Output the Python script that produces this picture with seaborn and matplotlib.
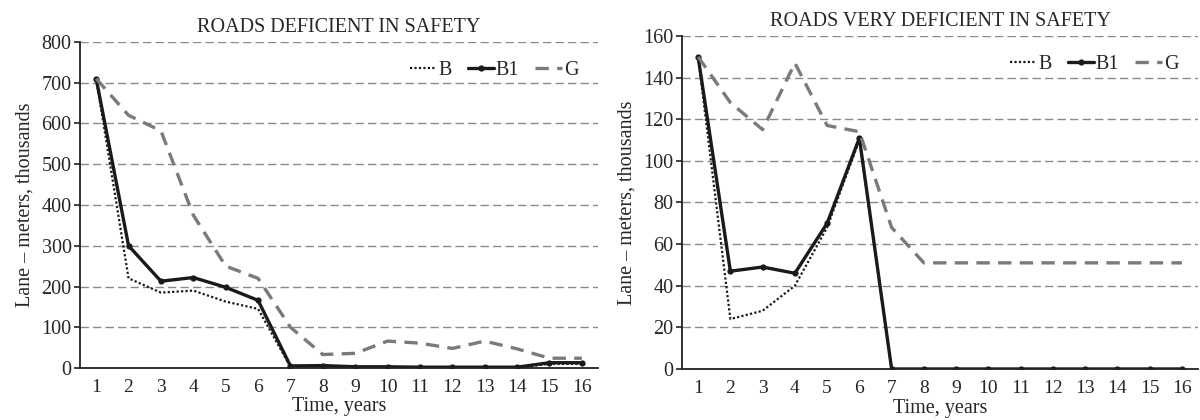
import matplotlib
matplotlib.use("Agg")
import matplotlib.pyplot as plt
import seaborn as sns
import numpy as np
import pandas as pd

years = list(range(1, 17))

# Left panel: roads deficient in safety
left_B = [710, 220, 185, 190, 163, 145, 3, 4, 2, 2, 1, 1, 1, 1, 10, 10]
left_B1 = [710, 300, 213, 222, 198, 166, 5, 6, 3, 3, 2, 2, 2, 2, 13, 13]
left_G = [710, 620, 582, 375, 250, 220, 100, 33, 36, 66, 61, 48, 66, 47, 24, 24]

# Right panel: roads very deficient in safety
right_B = [150, 24, 28, 40, 68, 110, 0, 0, 0, 0, 0, 0, 0, 0, 0, 0]
right_B1 = [150, 47, 49, 46, 70, 111, 0, 0, 0, 0, 0, 0, 0, 0, 0, 0]
right_G = [150, 128, 115, 147, 117, 114, 68, 51, 51, 51, 51, 51, 51, 51, 51, 51]

titles = ["ROADS DEFICIENT IN SAFETY", "ROADS VERY DEFICIENT IN SAFETY"]
y_ticks = [list(range(0, 801, 100)), list(range(0, 161, 20))]
xlabel = "Time, years"
ylabel = "Lane – meters, thousands"

sns.set_style("white")
plt.rcParams['font.family'] = ['Liberation Serif', 'DejaVu Serif']

fig = plt.figure(figsize=(12, 4.2), dpi=100)
ax1 = fig.add_axes([80/1200, 1-368/420, 518/1200, (368-42)/420])
ax2 = fig.add_axes([682/1200, 1-369/420, 516/1200, (369-36)/420])

FS = 14.5
panels = [(ax1, left_B, left_B1, left_G), (ax2, right_B, right_B1, right_G)]
for i, (ax, b, b1, g) in enumerate(panels):
    sns.lineplot(x=years, y=b, ax=ax, color="#1a1a1a", lw=1.6, linestyle=(0, (1, 1)), label="B")
    sns.lineplot(x=years, y=b1, ax=ax, color="#1a1a1a", lw=2.4, marker="o", markersize=4.5,
                 markeredgewidth=0, label="B1")
    sns.lineplot(x=years, y=g, ax=ax, color="#7a7a7a", lw=2.4, linestyle=(0, (4, 2.5)), label="G")
    ax.set_xlim(0.5, 16.5)
    ax.set_ylim(0, y_ticks[i][-1])
    ax.set_yticks(y_ticks[i])
    ax.set_xticks(years)
    ax.set_xticks(np.arange(0.5, 17, 1), minor=True)
    ax.tick_params(axis="x", which="major", length=0, labelsize=14, pad=8)
    ax.tick_params(axis="x", which="minor", length=5, width=1.2, color="#222222", direction="out")
    ax.tick_params(axis="y", which="major", length=4, width=1.2, color="#222222", direction="out",
                   labelsize=FS, pad=2, left=True)
    ax.yaxis.grid(True, linestyle=(0, (6, 3)), color="#8a8a8a", lw=1.0)
    ax.set_axisbelow(True)
    for s in ["top", "right"]:
        ax.spines[s].set_visible(False)
    for s in ["left", "bottom"]:
        ax.spines[s].set_color("#222222")
        ax.spines[s].set_linewidth(1.3)
    ax.set_title(titles[i], fontsize=FS, pad=7)
    ax.set_xlabel(xlabel, fontsize=FS, labelpad=1)
    ax.set_ylabel(ylabel, fontsize=FS, labelpad=5)
    ax.legend(loc="upper right", ncol=3, frameon=False, fontsize=FS, handlelength=1.3,
              handletextpad=0.1, columnspacing=0.8, bbox_to_anchor=(0.985, 0.98), borderaxespad=0.2)

fig.savefig("out.png", dpi=100)
